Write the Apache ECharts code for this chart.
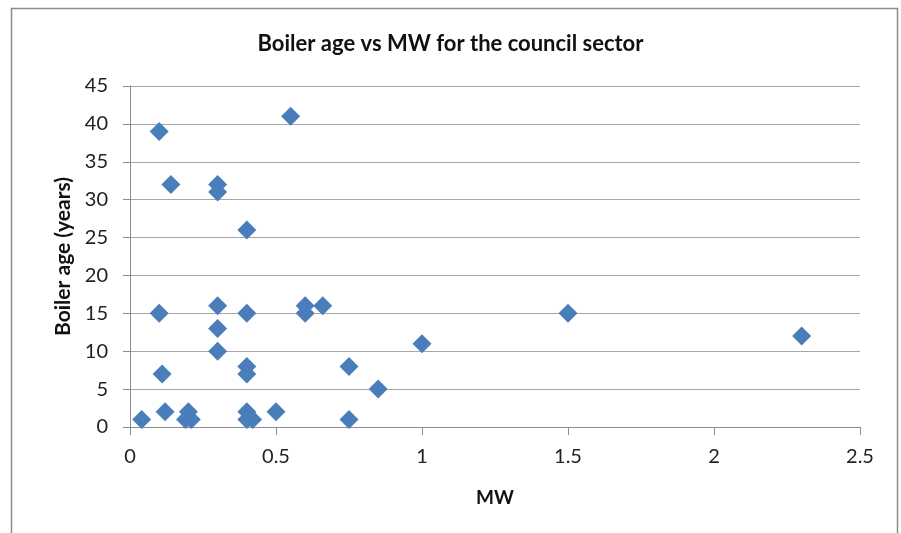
<!DOCTYPE html>
<html>
<head>
<meta charset="utf-8">
<script src="https://cdn.jsdelivr.net/npm/echarts@6/dist/echarts.min.js"></script>
<style>
  html, body { margin: 0; padding: 0; background: #fff; }
</style>
</head>
<body>
<div id="chart" style="width:901px;height:533px;"></div>
<script>
// MW of each boiler
const mw = [
  0.04, 0.10, 0.10, 0.11, 0.12, 0.14, 0.19, 0.20, 0.21,
  0.30, 0.30, 0.30, 0.30, 0.30,
  0.40, 0.40, 0.40, 0.40, 0.40, 0.40, 0.42,
  0.50, 0.55, 0.60, 0.60, 0.66, 0.75, 0.75, 0.85,
  1.00, 1.50, 2.30
];
// boiler age (years), same order
const age = [
  1, 39, 15, 7, 2, 32, 1, 2, 1,
  32, 31, 16, 13, 10,
  26, 15, 8, 7, 2, 1, 1,
  2, 41, 16, 15, 16, 8, 1, 5,
  11, 15, 12
];
const xTicks = [0, 0.5, 1, 1.5, 2, 2.5];
const yTicks = [0, 5, 10, 15, 20, 25, 30, 35, 40, 45];

const points = mw.map((m, i) => [m, age[i]]);
const font = 'Lato, "Open Sans", sans-serif';

const chart = echarts.init(document.getElementById('chart'));
chart.setOption({
  animation: false,
  textStyle: { fontFamily: font },
  title: {
    text: 'Boiler age vs MW for the council sector',
    left: 'center',
    top: 28,
    textStyle: { fontSize: 22, fontWeight: 'bold', color: '#111', fontFamily: font }
  },
  graphic: [{
    type: 'rect',
    shape: { x: 11.5, y: 8.5, width: 886, height: 540 },
    style: { fill: 'none', stroke: '#8c8c8c', lineWidth: 1.5 },
    silent: true
  }],
  grid: { left: 130, right: 41, top: 86, bottom: 106 },
  xAxis: {
    type: 'value',
    min: xTicks[0],
    max: xTicks[xTicks.length - 1],
    interval: 0.5,
    name: 'MW',
    nameLocation: 'middle',
    nameGap: 61,
    nameTextStyle: { fontSize: 19, fontWeight: 'bold', color: '#111' },
    axisLine: { show: true, lineStyle: { color: '#8c8c8c' } },
    axisTick: { show: true, length: 8, lineStyle: { color: '#8c8c8c' } },
    axisLabel: { fontSize: 20, color: '#222', margin: 20 },
    splitLine: { show: false }
  },
  yAxis: {
    type: 'value',
    min: yTicks[0],
    max: yTicks[yTicks.length - 1],
    interval: 5,
    name: 'Boiler age (years)',
    nameLocation: 'middle',
    nameGap: 56,
    nameTextStyle: { fontSize: 21, fontWeight: 'bold', color: '#111' },
    axisLine: { show: true, lineStyle: { color: '#8c8c8c' } },
    axisTick: { show: true, length: 7, lineStyle: { color: '#8c8c8c' } },
    axisLabel: { fontSize: 20, color: '#222', margin: 22 },
    splitLine: { show: true, lineStyle: { color: '#a6a6a6', width: 1 } }
  },
  series: [{
    type: 'scatter',
    data: points,
    symbol: 'diamond',
    symbolSize: 19,
    itemStyle: { color: '#4a7ebb', opacity: 1 }
  }]
});
</script>
</body>
</html>
